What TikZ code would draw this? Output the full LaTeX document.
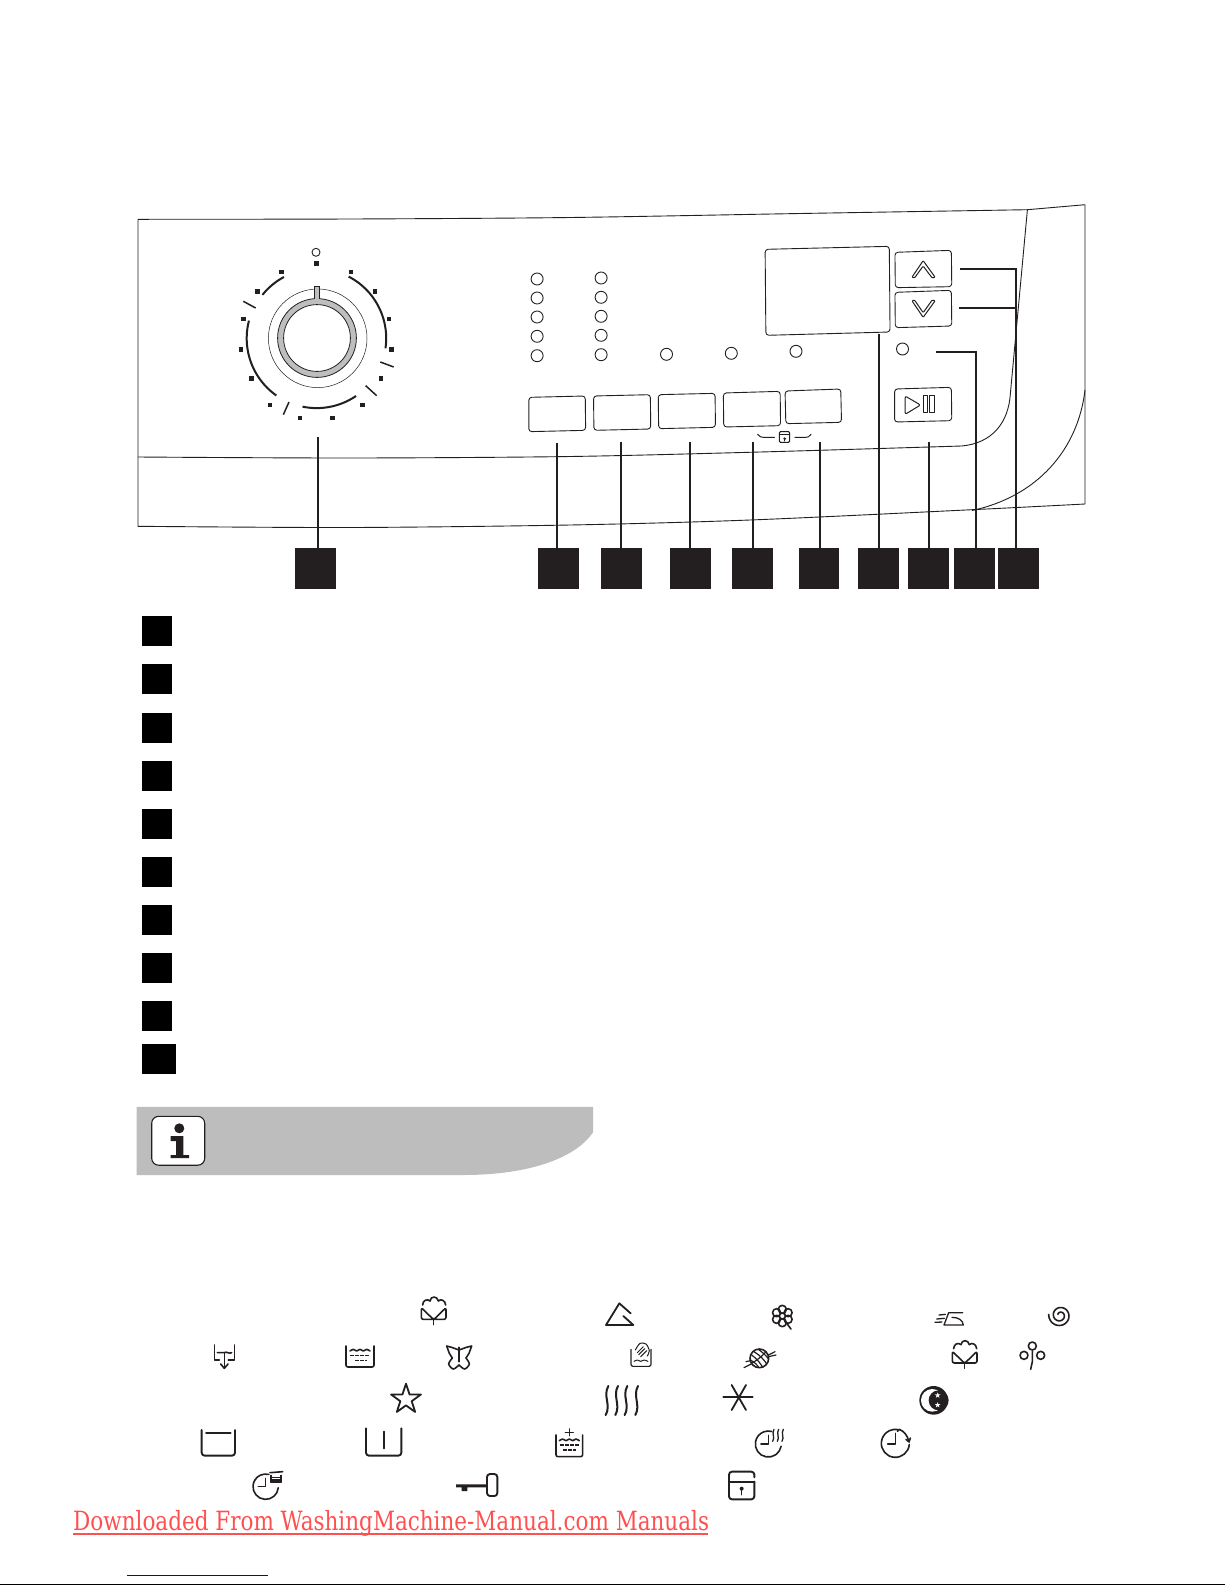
\documentclass[tikz,border=0pt]{standalone}
\usepackage{fontspec}
\newfontfamily\dlfont[FakeStretch=0.902]{DejaVu Serif Condensed}
\definecolor{ink}{HTML}{231F20}
\definecolor{dial}{HTML}{BCBEC0}
\definecolor{note}{HTML}{BDBDBD}
\definecolor{wm}{HTML}{FF5050}
\definecolor{lnk}{HTML}{0000DD}
\tikzset{
  panelline/.style={draw=ink,line width=0.9pt},
  btn/.style={draw=ink,line width=0.9pt,rounded corners=3pt,fill=white},
  led/.style={draw=ink,line width=0.9pt},
  conn/.style={draw=ink,line width=1.9pt},
  dialarc/.style={draw=ink,line width=2pt},
  blackbox/.style={rectangle,fill=ink,inner sep=0pt,minimum width=41pt,minimum height=40.7pt},
  listbox/.style={rectangle,fill=black,inner sep=0pt,minimum width=30pt,minimum height=30pt},
  sym/.style={draw=ink,line width=1.6pt,line join=round,line cap=round},
  symthin/.style={draw=ink,line width=1pt,line join=round,line cap=round},
  zoomb/.style={shift={(510,190)},x=0.37628pt,y=-0.33333pt},
  zoomd/.style={shift={(180,1290)},x=0.33333pt,y=-0.33333pt},
  zoome/.style={shift={(620,1290)},x=0.33333pt,y=-0.33333pt},
}
\newcommand{\swave}[3]{\draw[sym,line width=2pt] ({#1+4},#2) .. controls ({#1-13},{#2+.35*#3}) and ({#1+13},{#2+.65*#3}) .. ({#1-4},{#2+#3});}
\newcommand{\cottonmark}[2]{\begin{scope}[shift={(#1,#2)}]
  \draw[sym] (8,30) .. controls (8,16) and (22,10) .. (30,18) .. controls (32,2) and (52,2) .. (55,18) .. controls (62,10) and (76,16) .. (77,30);
  \draw[sym,rounded corners=2pt] (4,38) -- (4,73) -- (78,73) -- (78,38) -- (41,74) -- cycle;
  \draw[sym] (41,74) -- (41,89);
\end{scope}}
\begin{document}
\begin{tikzpicture}[x=1pt,y=-1pt]
\useasboundingbox[fill=white] (0,0) rectangle (1225,1585);

% --- panel outline
\draw[panelline,line join=round] plot[smooth] coordinates {(138,219.3) (350,219) (570,217.5) (800,213.5) (1027.4,209.7)} -- (1085,204.7) -- (1085,504)
  plot[smooth] coordinates {(1085,504) (976,509.5) (750,520) (570,525) (350,527.5) (138,526.3)} -- (138,219.3);
\draw[panelline] plot[smooth] coordinates {(138,457) (350,458) (570,456.5) (760,452) (961.5,446)}
  .. controls (991.7,443.3) and (1008.6,423.3) .. (1010.4,393.3) -- (1027.4,209.7);
\draw[panelline] (972,510.5) .. controls (1036.8,496.7) and (1078,450) .. (1085,390);

% --- dial
\coordinate (dc) at (316.7,338.3);
\draw[ink,line width=0.5pt] (317.7,338.3) circle[radius=49.3];
\draw[draw=ink,fill=dial,line width=0.8pt] (317,338) circle[radius=39.4];
\fill[dial] (314.3,286.7) rectangle (319.7,302);
\draw[ink,line width=0.7pt] (314.3,299) -- (314.3,286.7) -- (319.7,286.7) -- (319.7,299);
\draw[draw=ink,fill=white,line width=0.8pt] (317,338) circle[radius=33.4];
\draw[led] (316,252.3) circle[radius=4];
\foreach \px/\py in {485/246,413/304,370/387,363/478,394/566,450/645,540/684,638/684,728/645,783/566,814/478,807/387,765/304,693/246}
  \fill[ink] ({120+\px/3-2.2},{190+\py/3-2.2}) rectangle +(4.4,4.4);
\fill[ink] (313.7,260.7) rectangle +(5.2,5.2);
\draw[dialarc] plot[domain=218.7:241.9,samples=16] ({316.7+69.5*cos(\x)},{338.3+69.5*sin(\x)});
\draw[dialarc] plot[domain=-62.6:8.3,samples=30] ({316.7+69.5*cos(\x)},{338.3+69.5*sin(\x)});
\draw[dialarc] plot[domain=125.2:194.6,samples=30] ({316.7+70*cos(\x)},{338.3+70*sin(\x)});
\draw[dialarc] plot[domain=55.7:101.7,samples=24] ({316.7+69.8*cos(\x)},{338.3+69.8*sin(\x)});
\begin{scope}[shift={(120,190)},x=0.33333pt,y=-0.33333pt]
  \draw[dialarc,line width=1.5pt] (370,334) -- (407,354);
  \draw[dialarc,line width=1.5pt] (507,636) -- (490,674);
  \draw[dialarc,line width=1.5pt] (737,587) -- (770,617);
  \draw[dialarc,line width=1.5pt] (781,516) -- (821,531);
\end{scope}

% --- LEDs
\foreach \cy in {279,298,317,336.3,355.7} \draw[led] (537.1,\cy) circle[radius=6];
\foreach \cy in {278,297.3,316.3,335.3,354.7} \draw[led] (601.1,\cy) circle[radius=6];
\draw[led] (666.5,354.3) circle[radius=6];
\draw[led] (731.3,353.3) circle[radius=6];
\draw[led] (796,351.3) circle[radius=6];
\draw[led] (902.5,349) circle[radius=6];

% --- buttons, display, small marks
\begin{scope}[zoomb]
  \draw[btn] (50,622) -- (200,618) -- (201,721) -- (50,725) -- cycle;
  \draw[btn] (222,618) -- (373,614) -- (374,717) -- (223,721) -- cycle;
  \draw[btn] (394,614) -- (545,610) -- (546,712) -- (395,716) -- cycle;
  \draw[btn] (567,609) -- (718,604) -- (719,707) -- (568,711) -- cycle;
  \draw[btn] (731,603) -- (879,597) -- (881,697) -- (733,701) -- cycle;
  \draw[btn] (678,178) -- (1008,169) -- (1010,426) -- (680,436) -- cycle;
  \draw[btn] (1023,187) -- (1173,181) -- (1174,290) -- (1024,293) -- cycle;
  \draw[btn] (1023,307) -- (1173,301) -- (1174,408) -- (1024,413) -- cycle;
  \draw[btn] (1022,597) -- (1173,592) -- (1174,692) -- (1022,696) -- cycle;
  \draw[symthin,rounded corners=1pt] (1068,262) -- (1098,212) -- (1130,262) -- (1122,264) -- (1098,228) -- (1075,264) -- cycle;
  \draw[symthin,rounded corners=1pt] (1068,332) -- (1075,330) -- (1098,368) -- (1122,330) -- (1130,332) -- (1098,382) -- cycle;
  \draw[symthin,rounded corners=2pt] (1050,618) -- (1091,645) -- (1050,673) -- cycle;
  \draw[symthin] (1099,615) rectangle (1110,668);
  \draw[symthin] (1116,615) rectangle (1127,668);
  % keylock between the two buttons
  \draw[symthin] (658,733) .. controls (662,741) and (668,742) .. (680,742) -- (703,742);
  \draw[symthin] (757,742) -- (780,742) .. controls (792,742) and (796,741) .. (800,733);
  \draw[symthin,rounded corners=1pt] (716,725) rectangle (743,757);
  \draw[symthin] (716,734) -- (743,734);
  \fill[ink] (730,746) circle[radius=4];
  \draw[symthin] (730,746) -- (730,753);
\end{scope}

% --- black callout squares
\node[blackbox] (s1) at (315.5,568.3) {};
\node[blackbox] (s2) at (558.5,568.3) {};
\node[blackbox] (s3) at (621.6,568.3) {};
\node[blackbox] (s4) at (690.4,568.3) {};
\node[blackbox] (s5) at (752.5,568.3) {};
\node[blackbox,minimum width=40pt] (s6) at (819,568.3) {};
\node[blackbox] (s7) at (878.5,568.3) {};
\node[blackbox] (s8) at (928.6,568.3) {};
\node[blackbox] (s9) at (974.5,568.3) {};
\node[blackbox] (s10) at (1018.5,568.3) {};

% --- connectors
\coordinate (t1) at (318,437);
\coordinate (t2) at (557,443);
\coordinate (t3) at (621,442);
\coordinate (t4) at (689.9,442);
\coordinate (t5) at (752.7,442);
\coordinate (t6) at (820,442);
\coordinate (t7) at (879.1,334);
\coordinate (t8) at (928.8,442);
\coordinate (t9a) at (936,351.7);
\coordinate (t9b) at (976.2,351.7);
\coordinate (t10a) at (960,268.7);
\coordinate (t10b) at (1015.7,268.7);
\coordinate (t10c) at (959.3,307.7);
\foreach \k in {1,...,8} \draw[conn] (t\k) -- (t\k |- s\k.north);
\draw[conn,line join=miter] (t9a) -- (t9b) -- (t9b |- s9.north);
\draw[conn,line join=miter] (t10a) -- (t10b) -- (t10b |- s10.north);
\draw[conn] (t10c) -- (t10b |- t10c);

% --- list squares
\node[listbox] (l1) at (157,631) {};
\node[listbox] (l2) at (157,679.4) {};
\node[listbox] (l3) at (157,727.5) {};
\node[listbox] (l4) at (157,776.1) {};
\node[listbox] (l5) at (157,823.9) {};
\node[listbox] (l6) at (157,872) {};
\node[listbox] (l7) at (157,920) {};
\node[listbox] (l8) at (157,968) {};
\node[listbox] (l9) at (157,1016) {};
\node[listbox,minimum width=34pt] (l10) at (159,1059) {};

% --- info note
\fill[note] (136.7,1106.9) -- (593,1106.9) -- (593,1132.4) .. controls (573.3,1160.7) and (523.3,1175) .. (463.3,1175) -- (136.7,1175) -- cycle;
\draw[draw=ink,fill=white,line width=1.1pt,rounded corners=7pt] (151.7,1116.3) rectangle (204.7,1165.2);
\fill[ink] (179.3,1128.3) circle[radius=5];
\fill[ink] (170.7,1136) -- (183.3,1136) -- (183.3,1155) -- (189,1155) -- (189,1158) -- (170.7,1158) -- (170.7,1155) -- (176,1155) -- (176,1141) -- (170.7,1141) -- cycle;

% --- symbols (left half)
\begin{scope}[zoomd]
  \cottonmark{720}{15}
  % triangle
  \draw[sym,line width=1.8pt] (1352,70) -- (1318,40) -- (1278,105) -- (1360,105) -- (1330,78);
  % drain
  \draw[sym] (118,210) -- (103,210) -- (103,165);
  \draw[sym] (145,210) -- (163,210) -- (163,165);
  \draw[sym] (112,188) .. controls (120,183) and (126,193) .. (133,188) .. controls (140,183) and (147,193) .. (155,188);
  \draw[sym] (133,188) -- (133,234);
  \draw[sym] (122,222) -- (133,235) -- (144,222);
  % bath
  \draw[sym,rounded corners=2pt] (498,168) -- (498,231) -- (582,231) -- (582,168);
  \draw[sym] plot[smooth] coordinates {(510,183) (520,178) (530,183) (540,178) (550,183) (560,178) (570,183)};
  \draw[sym,dash pattern=on 4pt off 1pt,line cap=butt] (510,197) -- (570,197);
  \draw[sym,dash pattern=on 4pt off 1pt,line cap=butt] (525,211) -- (560,211);
  % butterfly
  \draw[sym] (837,172) -- (837,215);
  \draw[sym] (837,180) -- (815,172) -- (800,168) -- (808,190) -- (817,204);
  \draw[sym] plot[smooth] coordinates {(817,204) (806,222) (820,237) (837,225)};
  \draw[sym] (837,180) -- (859,172) -- (875,168) -- (867,190) -- (858,204);
  \draw[sym] plot[smooth] coordinates {(858,204) (868,222) (854,237) (837,225)};
  % hand wash
  \draw[symthin,line width=1.2pt,rounded corners=2pt] (1353,178) -- (1353,229) -- (1413,229) -- (1413,178);
  \draw[symthin] plot[smooth] coordinates {(1362,214) (1372,210) (1382,214) (1392,210) (1404,214)};
  \draw[symthin] plot[smooth] coordinates {(1366,180) (1380,160) (1398,162) (1408,182) (1402,198)};
  \draw[symthin] (1372,188) -- (1390,170);
  \draw[symthin] (1376,194) -- (1394,176);
  \draw[symthin] (1382,200) -- (1400,182);
  % star
  \draw[sym,line width=1.8pt] (678,281) -- (688.6,313.4) -- (722.7,313.5) -- (695.1,333.6) -- (705.6,366) -- (678,346) -- (650.4,366) -- (660.9,333.6) -- (633.3,313.5) -- (667.4,313.4) -- cycle;
  % steam
  \swave{1281}{288}{87}
  \swave{1310}{288}{87}
  \swave{1338}{288}{87}
  \swave{1370}{288}{87}
  % prewash
  \draw[sym,line width=1.9pt,rounded corners=3pt] (65,420) -- (65,497) -- (165,497) -- (165,420);
  \draw[sym,line width=1.9pt] (78,430) -- (152,430);
  % main wash
  \draw[sym,line width=1.9pt,rounded corners=3pt] (558,415) -- (558,497) -- (664,497) -- (664,415);
  \draw[sym,line width=1.9pt] (611,425) -- (611,475);
  % bath plus
  \draw[sym] (1168,417) -- (1168,437);
  \draw[sym] (1156,427) -- (1180,427);
  \draw[sym] plot[smooth] coordinates {(1138,452) (1148,447) (1158,452) (1168,447) (1178,452) (1188,447) (1198,452)};
  \draw[sym,dash pattern=on 4pt off 1pt,line cap=butt] (1140,465) -- (1196,465);
  \draw[sym,dash pattern=on 4pt off 1pt,line cap=butt] (1150,480) -- (1188,480);
  \draw[sym,rounded corners=2pt] (1128,435) -- (1128,500) -- (1208,500) -- (1208,435);
  % clock with shirt
  \draw[sym] ([shift={(5:38)}]257,590) arc[start angle=5,end angle=285,radius=38];
  \draw[sym] (257,565) -- (257,590) -- (235,590);
  \draw[sym,line width=1.6pt] (270,548) -- (308,545);
  \draw[sym,line width=1.2pt] (273,556) -- (273,578) -- (303,578) -- (303,556);
  \draw[sym,line width=1.1pt] (277,562) -- (299,562);
  \draw[sym,line width=1.1pt] (277,568) -- (299,568);
  \draw[sym,line width=1.1pt] (277,573) -- (299,573);
  % key
  \draw[sym,line width=1.9pt,rounded corners=3pt] (921,552) rectangle (952,618);
  \fill[ink] (828,583) -- (921,583) -- (921,592) -- (862,592) -- (862,603) -- (845,603) -- (845,592) -- (828,592) -- cycle;
\end{scope}

% --- symbols (right half)
\begin{scope}[zoome]
  % flower
  \foreach \a in {-90,-30,30,90,150,210}
    \draw[sym] ([shift={(\a:20)}]487,78) circle[radius=12];
  \fill[white] (487,78) circle[radius=10];
  \draw[sym] (487,78) circle[radius=9];
  \draw[sym] (500,100) -- (513,117);
  % iron
  \draw[sym,line width=1.3pt] (1028,68) -- (986,68) -- (972,105) -- (1030,105) .. controls (1028,90) and (1015,82) .. (996,82);
  \draw[sym,line width=1.3pt] (957,75) -- (976,73);
  \draw[sym,line width=1.3pt] (950,87) -- (973,85);
  \draw[sym,line width=1.3pt] (945,97) -- (966,96);
  % spiral
  \draw[sym] plot[domain=100:800,samples=70] ({1320+(3+(\x/800)*31)*cos(\x+105)},{76+(3+(\x/800)*31)*sin(\x+105)});
  % yarn
  \draw[sym,line width=1.2pt] (372,233) -- (465,185);
  \draw[sym,line width=1.2pt] (378,215) -- (468,195);
  \fill[white] (418,205) circle[radius=28];
  \draw[sym] (418,205) circle[radius=28];
  \draw[sym,line width=1.2pt] (395,195) .. controls (410,205) and (425,225) .. (428,232);
  \draw[sym,line width=1.2pt] (402,185) .. controls (420,195) and (437,215) .. (440,222);
  \draw[sym,line width=1.2pt] (415,178) .. controls (428,187) and (442,200) .. (446,208);
  \draw[sym,line width=1.2pt] (391,210) .. controls (402,215) and (412,225) .. (416,232);
  \draw[sym,line width=1.2pt] (395,220) .. controls (420,205) and (435,190) .. (438,184);
  % second cotton
  \cottonmark{993}{146}
  % tree
  \draw[sym] (1237,168) circle[radius=12];
  \draw[sym] (1212,196) circle[radius=12];
  \draw[sym] (1262,196) circle[radius=12];
  \draw[sym] (1237,184) -- (1237,215) -- (1232,238);
  % asterisk
  \draw[sym,line width=1.8pt] (310,322) -- (398,322);
  \draw[sym,line width=1.8pt] (335,285) -- (378,360);
  \draw[sym,line width=1.8pt] (378,285) -- (335,360);
  % moon
  \fill[ink] (941,331) circle[radius=43];
  \fill[white] (937,331) circle[radius=34];
  \fill[ink] (956,331) circle[radius=30];
  \foreach \sx/\sy in {953/316,953/345}
    \fill[white] (\sx,\sy) +(-90:9) -- +(54:9) -- +(198:9) -- +(-18:9) -- +(126:9) -- cycle;
  % clock with steam
  \draw[sym] ([shift={(10:39)}]445,462) arc[start angle=10,end angle=285,radius=39];
  \draw[sym] (445,436) -- (445,462) -- (423,462);
  \draw[sym,line width=1.3pt] (462,418) .. controls (454,430) and (466,442) .. (458,454);
  \draw[sym,line width=1.3pt] (476,418) .. controls (468,430) and (480,442) .. (472,454);
  \draw[sym,line width=1.3pt] (490,418) .. controls (482,430) and (494,442) .. (486,454);
  % clock with arrow
  \draw[sym] ([shift={(5:42)}]826,460) arc[start angle=5,end angle=280,radius=42];
  \draw[sym] (826,430) -- (826,462) -- (803,462);
  \draw[sym] (838,418) .. controls (852,424) and (862,436) .. (866,452);
  \draw[sym] (838,418) -- (832,424);
  \draw[sym] (858,448) -- (867,456) -- (871,444);
  % lock
  \draw[sym,line width=1.9pt,rounded corners=3pt] (403,575) -- (403,628) -- (327,628) -- (327,545) -- (403,545) -- (403,562);
  \draw[sym,line width=1.9pt] (327,575) -- (403,575);
  \fill[ink] (365,596) circle[radius=6];
  \draw[sym,line width=1.4pt] (365,596) -- (365,614);
\end{scope}

% --- footer
\node[anchor=base west,inner sep=0pt,text=wm,font=\dlfont\fontsize{26.5}{30}\selectfont] (dl) at (73,1530) {Downloaded From WashingMachine-Manual.com Manuals};
\coordinate (u1) at (73,1533.7);
\coordinate (u2) at (708,1533.7);
\draw[wm,line width=1.8pt] (u1) -- (u2);
\coordinate (b1) at (127,1575.7);
\coordinate (b2) at (268,1575.7);
\draw[lnk,line width=1pt] (b1) -- (b2);
\coordinate (e1) at (0,1584.4);
\coordinate (e2) at (1225,1584.4);
\draw[black,line width=1.2pt] (e1) -- (e2);
\end{tikzpicture}
\end{document}
